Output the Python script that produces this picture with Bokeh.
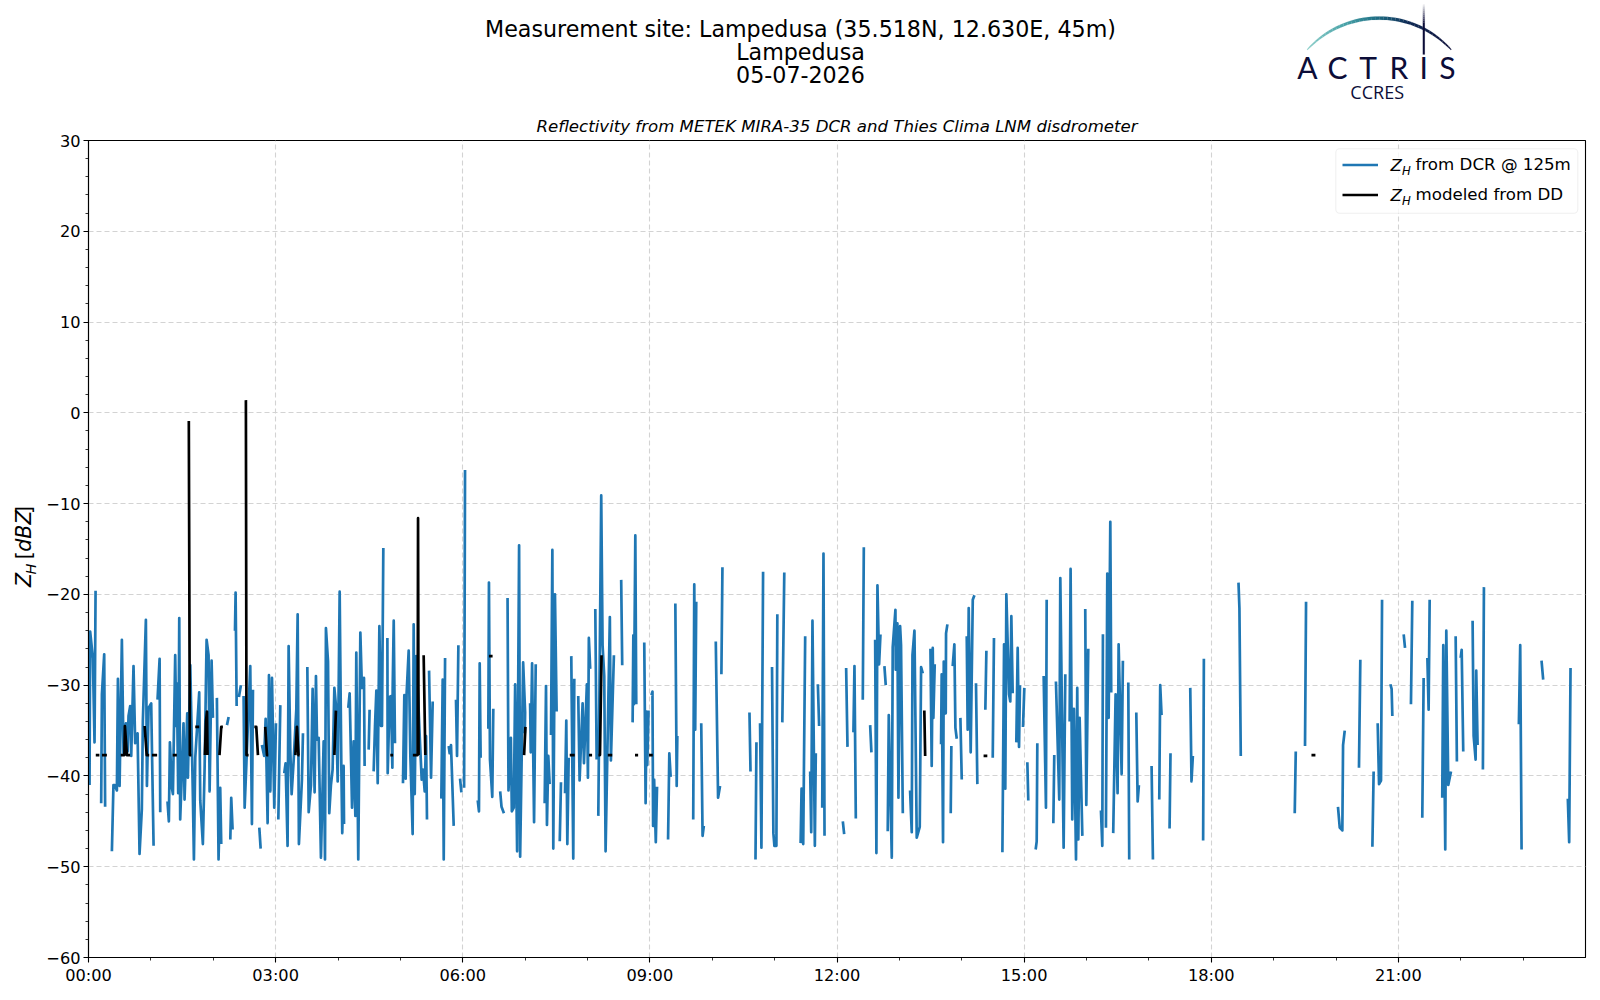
import math
from bokeh.plotting import figure
from bokeh.layouts import column, row
from bokeh.models import (Range1d, FixedTicker, Legend, LegendItem, Label, PolyAnnotation, Title, BoxAnnotation)
from bokeh.embed import file_html
from bokeh.resources import INLINE

# ---------- texts ----------
title_lines = ["Measurement site: Lampedusa (35.518N, 12.630E, 45m)", "Lampedusa", "05-07-2026"]
subtitle = "Reflectivity from METEK MIRA-35 DCR and Thies Clima LNM disdrometer"
x_tick_hours = [0, 3, 6, 9, 12, 15, 18, 21]
x_tick_labels = ["00:00", "03:00", "06:00", "09:00", "12:00", "15:00", "18:00", "21:00"]
y_tick_values = [30, 20, 10, 0, -10, -20, -30, -40, -50, -60]
y_tick_labels = ["30", "20", "10", "0", "\u221210", "\u221220", "\u221230", "\u221240", "\u221250", "\u221260"]

# ---------- DCR reflectivity: (minute of day, dBZ); None marks a data gap ----------
dcr_00_03 = [(1,-41),(1.6,-24.1),(4.2,-27),(5.8,-36.3),(6.8,-19.6),None,
 (12.2,-43),(12.9,-31),(15.1,-26.6),(16,-43.4),None,
 (22.5,-48.3),(24,-41),(25.4,-41),(27.3,-41.6),(28.3,-29.3),(29.9,-41.1),(32.1,-25),(33.7,-37.5),(36,-34.2),(37.6,-37.3),(38.5,-33.4),(40.1,-32.3),(41.1,-37.8),(43.3,-27.9),(44.9,-36.4),(47.2,-35.3),(49.1,-48.6),(51.3,-43.7),(52.3,-33.9),(55.2,-22.8),(56.2,-41.1),(57.8,-32.5),(60.3,-32),(62.6,-47.7),None,
 (66.4,-31.6),(68.4,-27.1),(69,-44),None,
 (76,-42.8),(77.3,-45),(78.3,-36.3),(80.2,-41.3),(81.2,-42),(83.4,-26.7),(84.4,-34.5),(85,-29.8),(86.3,-41.9),(87.3,-22.6),(88.2,-44.8),(89.8,-39.7),(91.4,-34.2),(92.4,-42.6),(95,-33.1),(95.6,-40.2),(97.9,-27.8),(99.5,-36.9),(100.4,-42.2),(101.4,-49.2),(102.7,-38),(106.5,-30.8),(107.5,-42.7),(110,-47.5),(111.7,-39.1),(113.6,-25),(115.5,-26.7),(116.5,-41.7),(118.4,-27.3),(119.7,-33.6),None,
 (123.5,-31.4),(125.1,-49.2),(126.7,-41.3),(127.7,-47.5),None,
 (133.2,-34.4),(134.8,-33.5),None,
 (136.4,-47),(137.3,-42.4),(138.6,-45.9),None,
 (140.9,-24),(141.5,-19.8),(142.5,-32.3),None,
 (144.7,-31.3),(146.6,-30),None,
 (149.2,-31.2),(150.2,-43.5),(155.6,-27.9),(157.2,-45.3),(158.2,-30.5),None,
 (164.3,-45.7),(165.6,-48),None,
 (166.8,-36.6),(169,-37.8),(170.4,-33.7),(172.3,-45.2),(173.6,-28.9),(174.9,-41.7),(176.5,-29.2),(178.7,-43.5),(180.3,-34.2),None]
dcr_03_06 = [(182.6,-44.8),(184.5,-32.2),None,
 (188.3,-39.7),(189.6,-38.6),(191.5,-47.7),(192.5,-25.7),(194.1,-37.1),(195.4,-42),(197.3,-38.4),(199.9,-32.7),(201.2,-22.2),(202.4,-47.5),(205.3,-40.4),(206.3,-35.3),None,
 (210.5,-28),(211.8,-44),(214,-41),(215.6,-30.4),(217.5,-41.8),(218.8,-29),(219.8,-36),(221.4,-35.8),(223.6,-49),(226.2,-36.2),(227.5,-49.2),(228.4,-23.7),(230.4,-27.4),(231.6,-44.1),(233.2,-41),(234.8,-39.3),(236.5,-30.3),(238,-32.2),(239.7,-40.6),(241.6,-19.7),(243.2,-38.9),(244.1,-46.3),(245.4,-38.9),(245.8,-45.3),None,
 (249.9,-32.5),(251.2,-30.9),(253.5,-43.5),(255,-36.2),(256.7,-44.4),(257.6,-26.4),(259.5,-49.2),(261.5,-24.2),(263,-30.3),(265,-29.2),(265.6,-38.9),None,
 (269.5,-37.1),(270.4,-32.7),None,
 (274.3,-39.5),(275.6,-34.5),(276.9,-30.6),(278.2,-40.8),(279.8,-23.5),(281.4,-34.5),(282.3,-34.5),(283.6,-14.9),None,
 (287.5,-24.8),(287.8,-39.7),(289.7,-31.3),(291,-31.2),(292.3,-39.1),(292.6,-30.3),(293.6,-22.9),(294.8,-36.4),None,
 (302.5,-40.8),(303.8,-31.1),(305.1,-40.3),(306,-30.9),(308,-26.2),(309.6,-37.8),(311.8,-46.4),(312.8,-23.3),(313.8,-42),(315.4,-26.8),(318.6,-35.6),(320.5,-40.4),(321.8,-39.3),(323.4,-41.7),(324.7,-35.6),(325.6,-44.8),None,
 (327.6,-28.4),(329.5,-40.2),(331.1,-31.8),None,
 (339.4,-42.5),(340.7,-29.4),(341.7,-49.2),(343,-27),None,
 (346.5,-36.7),(347.4,-37.5),(348.7,-36.6),(351.3,-45.5),None,
 (353.5,-31.6),(354.5,-37.8),(355.8,-25.6),None,
 (357.4,-40.3),(358.7,-41.8),None]
dcr_06_09 = [(361.3,-41.3),(362.2,-6.3),None,
 (374.4,-42.7),(375.6,-43.9),(376.3,-27.6),(377.2,-38),None,
 (384.6,-34.8),(385.2,-18.7),(386.2,-38.2),(388.4,-42.3),(389.4,-32.6),None,
 (396,-41.7),(397.3,-43.4),(399.6,-44.1),None,
 (403.1,-20.4),(404,-41.6),(406.3,-35.8),(407.2,-43.9),(409.1,-43.5),(410.4,-29.9),(412.3,-48.3),(414.2,-14.6),(415.2,-48.9),(418.1,-27.5),(420,-33),(419.7,-35.3),None,
 (424.8,-32),(425.4,-37.4),(426.7,-27.6),(428.6,-45.1),(430.2,-27.7),None,
 (438.8,-43),(440.1,-30.1),(441,-45.4),(442.3,-37.8),(443.6,-40.9),None,
 (444.9,-35.5),(446.2,-15.1),(447.1,-48),(448.7,-20),(450.3,-32.9),None,
 (453.3,-47.2),(454.5,-40.7),None,
 (458.4,-41.9),(459.6,-33.9),(460.6,-47.5),(461.9,-38),None,
 (464.4,-26.8),(466.3,-49.1),(467.3,-29.3),None,
 (471.1,-31.2),(472.4,-40.5),(475.3,-32),(476.6,-38.6),(479.4,-29.9),(480.4,-40.2),(481.3,-24.8),(482.6,-28.2),None,
 (487.5,-21.6),(488.8,-38.2),None,
 (490.4,-44.4),(493.2,-9.1),(494.5,-25.6),(496.1,-29),(497.4,-48.3),(501.5,-22.5),(502.5,-38.3),(505.4,-26.7),None,
 (512.4,-18.4),(513.4,-27.8),None,
 (523.4,-34.1),(524.1,-24.5),(524.7,-32.1),(526,-13.5),(526.9,-32.1),None,
 (534.6,-25.3),(535.9,-43),(536.8,-32.9),(537.5,-38.8),(538.7,-32.8),None]
dcr_09_12 = [(541.5,-31.1),(542.5,-30.7),(543.1,-45.5),(544.1,-40.4),(545.7,-47.3),(546.9,-41.2),None,
 (557.5,-47),(558.7,-37.5),(560,-40.1),None,
 (564.5,-21),(565.8,-41.1),(566.4,-35.6),None,
 (581.7,-44.8),(582.7,-18.9),(583.6,-34.9),(584.6,-20.8),None,
 (589.4,-34.2),(590.7,-46.6),(591.9,-45.5),None,
 (603.4,-25.2),(605.6,-42.4),(607.5,-41.1),None,
 (608.8,-28.8),(609.8,-17),None,
 (635.8,-33),(636.8,-39.5),None,
 (641.6,-49.2),(642.5,-36.3),None,
 (646,-34.2),(647.3,-47.9),(648.9,-17.5),None,
 (657.5,-28),(658.8,-46.3),(659.8,-47.7),(661.7,-47.7),(662.6,-22.2),None,
 (667.4,-34.1),(669.3,-17.6),None,
 (685,-47.4),(685.9,-41.4),(687.5,-47.5),(689.4,-24.6),None,
 (694.2,-39.5),(695.2,-46.2),(696.4,-22.9),(698.7,-47.7),(699.6,-37.5),None,
 (701.6,-29.9),(702.8,-34.5),None,
 (705.8,-43.5),(707,-15.5),(708,-46.6),None,
 (725.6,-45),(726.9,-46.4),None,
 (728.8,-28.1),(730.1,-36.8),None]
dcr_12_15 = [(735.8,-35.2),(736.8,-27.9),(738.1,-44.7),None,
 (744.8,-31.6),(745.8,-14.8),None,
 (751.9,-34.4),(753.1,-37.4),None,
 (756.7,-25),(757.9,-48.5),(758.9,-19),(760.5,-27.7),(761.8,-24.4),None,
 (765.6,-27.9),(766.9,-30),None,
 (768.8,-46.1),(769.8,-33.3),(772.7,-49),(773.6,-25.8),(776.2,-21.7),(776.5,-28.3),(778.1,-23.2),(779.1,-42.4),(780.7,-23.5),(781.6,-25.6),(783.3,-44.1),None,
 (790.3,-41.6),(791.9,-46.2),(792.6,-26.7),(794.5,-24),(796.7,-46.8),(799.6,-45.6),(800.9,-28),(802.5,-28.7),None,
 (809.9,-26),(811.1,-38.9),(812.1,-25.9),(812.7,-33.6),(814,-27.7),None,
 (820.1,-36.5),(820.7,-28.8),(822,-47.3),(822.7,-27.4),(824.6,-33.1),(824.9,-24.3),(826.2,-23.3),None,
 (829.4,-44.1),(830,-36.7),None,
 (831.3,-27.9),(832.9,-25.5),(833.9,-34.7),(835.2,-35.9),None,
 (838.7,-33.6),(840,-40.4),None,
 (844.8,-24.6),(845.7,-34.9),(846.7,-21.5),(848.6,-37.4),(850.6,-20.6),(852.2,-20.1),None,
 (853.7,-29.8),(855,-40.9),None,
 (862.7,-32.7),(863.7,-26.2),None,
 (869.8,-38),(871,-24.8),None,
 (879.1,-48.4),(880.7,-25.5),(881.9,-41.4),(882.9,-20),(885.5,-31),(886.7,-31.8),(887.7,-22.4),(889,-30.9),None,
 (892.5,-36.3),(893.8,-25.9),(895.1,-36.8),(896,-30),None]
dcr_15_18 = [(898.9,-34.6),(900.2,-30.3),None,
 (903.1,-38.5),(904,-42.7),None,
 (911.1,-48.1),(912.1,-47.2),(912.7,-36.4),None,
 (918.8,-29),(921,-43.5),(921.7,-20.6),None,
 (928.1,-45.2),(929,-37.7),None,
 (930.6,-29.6),(933.8,-42.6),(934.8,-18.2),(938,-47.9),(939.6,-28.8),None,
 (943.8,-34),(944.7,-17.2),(946.3,-44.8),(947.9,-32.6),(949.9,-49.2),(951.1,-30.3),(952.1,-47),(953.4,-33.6),(956,-46.6),None,
 (958.8,-21.6),(959.8,-43.2),(961.7,-26),None,
 (973.9,-43.8),(975.2,-47.7),(975.8,-24.4),None,
 (978.7,-45.7),(980,-17.7),(981.3,-33.6),(982.9,-12),(983.8,-30.8),None,
 (985.7,-46.3),(988,-31),(989.9,-41.9),(990.9,-25.5),(993.8,-39.8),(995,-27.3),None,
 (1000.2,-29.7),(1001.1,-49.2),None,
 (1007.9,-33),(1009.2,-42.8),(1010.4,-41),None,
 (1022.6,-38.9),(1023.9,-49.2),None,
 (1030,-42.6),(1030.9,-30),(1032.2,-33.3),None,
 (1039.9,-45.8),(1040.8,-37.5),None,
 (1059.8,-30.3),(1061,-40.6),(1062.3,-37.8),None,
 (1072.9,-27.1),(1072.2,-47.1),None]
dcr_18_24 = [(1106.2,-18.7),(1107.1,-21.5),(1108.4,-37.8),None,
 (1160.3,-44.1),(1161.3,-37.3),None,
 (1170.2,-36.7),(1171.2,-20.8),None,
 (1201.9,-43.4),(1203.6,-45.7),(1206.1,-46),(1206.8,-36.6),(1208.4,-35),None,
 (1222.1,-39.1),(1223.4,-27.2),None,
 (1235,-47.8),(1236.2,-39.5),None,
 (1240.1,-34.2),(1241.4,-40.9),(1243.3,-40.5),(1244.3,-20.6),None,
 (1252.3,-29.9),(1253.5,-30.4),(1254.2,-33.4),None,
 (1265.1,-24.4),(1266.4,-25.9),None,
 (1272.1,-32.1),(1273.4,-20.7),None,
 (1283,-44.6),(1284.3,-29.2),None,
 (1287.9,-27),(1289.1,-32.7),(1290.1,-20.6),None,
 (1302.2,-42.4),(1303.2,-25.6),(1305.1,-48.1),(1306.1,-24),(1308,-41),(1310.6,-39.5),None,
 (1315.1,-24.6),(1316.3,-38.4),None,
 (1319.9,-27),(1320.9,-26.1),(1322.4,-37.3),None,
 (1331.4,-22.9),(1332.4,-35.6),(1334.3,-38.2),(1334.9,-28.4),(1336.2,-36.6),None,
 (1341.3,-39.3),(1342.3,-19.2),None,
 (1375.9,-34.3),(1377.2,-25.6),(1378.5,-48.1),None,
 (1397.7,-27.3),(1399.3,-29.4),None,
 (1423,-42.5),(1424.3,-47.3),(1425.6,-28.1)]

# ---------- reflectivity modeled from disdrometer data ----------
dd_00_03 = [(7,-37.7),(10.5,-37.7),None,(13,-37.7),(17.7,-37.7),None,
 (31,-37.7),(34.5,-37.7),(35,-34.5),(37,-37.7),(40,-37.7),None,
 (54,-34.5),(56,-37.7),(58.4,-37.7),None,(61,-37.7),(66,-37.7),None,
 (81,-37.7),(85,-37.7),None,
 (96.5,-0.9),(97.5,-37.7),(99,-37.7),None,
 (102.7,-34.6),(106.5,-34.6),None,
 (112,-37.7),(113,-34),(114,-32.9),(114.5,-37.7),None,
 (126,-37.7),(127.7,-34.6),(129.3,-34.6),None,
 (151.4,1.4),(152,-37.7),(154,-37.7),None,
 (159.5,-34.6),(161.4,-34.6),(163,-37.7),None,
 (170,-34.6),(171.7,-37.7),(173,-37.7),None]
dd_03_06 = [(199,-37.7),(200.5,-34.6),(202,-37.7),(203,-37.7),None,
 (236.5,-37.7),(238,-32.8),None,
 (290.3,-37.7),(293,-37.7),None,
 (312,-37.7),(316.6,-37.7),(317,-11.6),(317.5,-37.7),None,
 (322.4,-26.7),(324,-37.7),None]
dd_06_24 = [(385.2,-26.8),(388.7,-26.8),None,
 (419,-37.7),(420.3,-34.6),None,
 (462.9,-37.7),(467.7,-37.7),None,
 (481.4,-37.7),(484.4,-37.7),None,
 (490.5,-37.7),(492,-37.7),(493.5,-26.7),None,
 (499.5,-37.7),(503.8,-37.7),None,
 (525.7,-37.7),(528.7,-37.7),None,
 (539.2,-37.7),(542.8,-37.7),None,
 (804,-32.8),(804.8,-37.8),None,
 (861,-37.8),(864.6,-37.8),None,
 (1176.4,-37.7),(1180.2,-37.7)]

DCR_COLOR = "#1f77b4"
LOGO_NAVY = "#0c0d38"
FONT = "DejaVu Sans"
W, H = 1592, 992     # whole page block
HEAD = 108           # height of the strip with the titles and the logo
SIDE = 40            # width of the strip with the y axis title


def split(blocks):
    hours, values = [], []
    for block in blocks:
        for pt in block:
            hours.append(float("nan") if pt is None else pt[0] / 60.0)
            values.append(float("nan") if pt is None else pt[1])
    return hours, values


def blank(width, height, x0, x1, y0, y1):
    """An axis-less figure whose data coordinates are page pixels."""
    f = figure(width=width, height=height, output_backend="svg", toolbar_location=None,
               x_range=Range1d(x0, x1), y_range=Range1d(y1, y0),
               x_axis_type=None, y_axis_type=None,
               min_border=0, min_border_left=0, min_border_right=0, min_border_top=0, min_border_bottom=0,
               background_fill_color="white", border_fill_color="white")
    f.outline_line_color = None
    f.grid.visible = False
    return f


def text(f, s, px, py, size, font=FONT, style="normal", align="center", color="black", angle=0,
         units="data"):
    f.add_layout(Label(x=px, y=py, x_units=units, y_units=units, text=s, level="overlay",
                       text_font=font, text_font_size=f"{size}px", text_font_style=style,
                       text_align=align, text_baseline="alphabetic", text_color=color,
                       angle=angle, background_fill_alpha=0, border_line_alpha=0))


# ---------- main chart ----------
p = figure(width=W - SIDE, height=H - HEAD, output_backend="svg", toolbar_location=None,
           x_range=Range1d(0, 24), y_range=Range1d(-60, 30),
           min_border_left=88 - SIDE, min_border_right=7, min_border_top=140 - HEAD, min_border_bottom=35,
           background_fill_color="white", border_fill_color="white")
p.outline_line_color = "black"
p.outline_line_width = 1.1
p.title = Title(text=subtitle, align="center", text_font=FONT, text_font_size="16.6px",
                text_font_style="italic", text_color="black", standoff=9)

for ax in (p.xaxis[0], p.yaxis[0]):
    ax.axis_line_color = "black"
    ax.axis_line_width = 1.1
    ax.major_tick_line_color = "black"
    ax.major_tick_line_width = 1.1
    ax.minor_tick_line_color = "black"
    ax.minor_tick_line_width = 0.8
    ax.major_tick_out = 5
    ax.major_tick_in = 0
    ax.minor_tick_out = 3
    ax.minor_tick_in = 0
    ax.major_label_text_font = FONT
    ax.major_label_text_font_size = "16.2px"
    ax.major_label_text_color = "black"
    ax.major_label_standoff = 3

p.xaxis[0].ticker = FixedTicker(ticks=x_tick_hours, minor_ticks=list(range(0, 24)))
p.xaxis[0].major_label_overrides = dict(zip(x_tick_hours, x_tick_labels))
p.yaxis[0].ticker = FixedTicker(ticks=y_tick_values, minor_ticks=list(range(-60, 31, 2)))
p.yaxis[0].major_label_overrides = dict(zip(y_tick_values, y_tick_labels))

for g in (p.xgrid[0], p.ygrid[0]):
    g.grid_line_color = "#d3d3d3"
    g.grid_line_width = 1.1
    g.grid_line_dash = "5 3"

tx, ty = split([dcr_00_03, dcr_03_06, dcr_06_09, dcr_09_12, dcr_12_15, dcr_15_18, dcr_18_24])
r_dcr = p.line(tx, ty, line_color=DCR_COLOR, line_width=2.7, line_join="round", line_cap="butt")
bx, by = split([dd_00_03, dd_03_06, dd_06_24])
r_dd = p.line(bx, by, line_color="black", line_width=2.7, line_join="round", line_cap="butt")

# legend frame, under the legend entries so that the Z_H symbols stay on top
p.add_layout(BoxAnnotation(left=1335.3 - SIDE, right=1577.3 - SIDE, top=148.3 - HEAD, bottom=212.7 - HEAD,
                           left_units="canvas", right_units="canvas", top_units="canvas", bottom_units="canvas",
                           fill_color="white", fill_alpha=0.8, line_color="#cccccc", line_width=1.1,
                           border_radius=4, editable=False))

legend = Legend(items=[LegendItem(label="from DCR @ 125m", renderers=[r_dcr]),
                       LegendItem(label="modeled from DD", renderers=[r_dd])],
                location=(1253.5, 751), margin=0, padding=5, spacing=7,
                glyph_width=36, glyph_height=23, label_height=23, label_standoff=38,
                label_text_font=FONT, label_text_font_size="16.67px", label_text_color="black",
                border_line_color=None, background_fill_alpha=0)
p.add_layout(legend)

# legend symbol Z_H, in the main figure's canvas coordinates
for mid in (165, 195):
    text(p, "Z", 1390 - SIDE, mid - HEAD, 16.67, style="italic", align="left", units="canvas")
    text(p, "H", 1401.5 - SIDE, mid + 5 - HEAD, 11.7, style="italic", align="left", units="canvas")

# ---------- y axis title strip ----------
side = blank(SIDE, H - HEAD, 0, SIDE, HEAD, H)
text(side, "Z", 23, 591, 20.6, style="italic", align="left", angle=math.pi / 2)
text(side, "H", 30, 577.5, 14.4, style="italic", align="left", angle=math.pi / 2)
text(side, "[", 23, 561, 20.6, align="left", angle=math.pi / 2)
text(side, "dBZ", 23, 553, 20.6, style="italic", align="left", angle=math.pi / 2)
text(side, "]", 23, 512, 20.6, align="left", angle=math.pi / 2)

# ---------- title and logo strip ----------
head = blank(W, HEAD, 0, W, 0, HEAD)
for line, mid in zip(title_lines, [28.3, 51.7, 74]):
    text(head, line, 800, mid, 22.2)


def mix(a, b, f):
    a = [int(a[i:i + 2], 16) for i in (1, 3, 5)]
    b = [int(b[i:i + 2], 16) for i in (1, 3, 5)]
    return "#%02x%02x%02x" % tuple(round(u + (v - u) * f) for u, v in zip(a, b))


def quad(xs, ys, color):
    head.add_layout(PolyAnnotation(xs=list(xs), ys=list(ys), fill_color=color, fill_alpha=1,
                                   line_color=color, line_width=0.3, editable=False))


R, CX, CY = 97.7, 1378.7, 115.3
a0 = math.asin(72 / R)
N = 40
stops = [(0.0, "#8fd0cb"), (0.28, "#4aa3a8"), (0.48, "#1f6f85"), (0.68, "#0f2a55"), (1.0, LOGO_NAVY)]


def stop_color(f):
    for (f0, c0), (f1, c1) in zip(stops, stops[1:]):
        if f <= f1:
            return mix(c0, c1, (f - f0) / (f1 - f0))
    return LOGO_NAVY


for i in range(N):
    f0, f1 = i / N, (i + 1) / N
    t0, t1 = -a0 + 2 * a0 * f0, -a0 + 2 * a0 * f1
    w0 = 0.5 + 1.2 * math.sin(math.pi * f0) ** 0.7
    w1 = 0.5 + 1.2 * math.sin(math.pi * f1) ** 0.7
    xs = [CX + (R + w0) * math.sin(t0), CX + (R + w1) * math.sin(t1),
          CX + (R - w1) * math.sin(t1), CX + (R - w0) * math.sin(t0)]
    ys = [CY - (R + w0) * math.cos(t0), CY - (R + w1) * math.cos(t1),
          CY - (R - w1) * math.cos(t1), CY - (R - w0) * math.cos(t0)]
    quad(xs, ys, stop_color((f0 + f1) / 2))

# vertical stroke of the logo, fading towards the top
for i in range(10):
    f = i / 10
    quad([1422.3, 1424.3, 1424.3, 1422.3], [2 + f * 20, 2 + f * 20, 2 + (f + 0.1) * 20, 2 + (f + 0.1) * 20],
         mix("#ffffff", LOGO_NAVY, f))
quad([1422.3, 1424.3, 1424.3, 1422.3], [22, 22, 54, 54], LOGO_NAVY)

for letter, x in zip("ACTRIS", [1307, 1337, 1367.5, 1398.5, 1423.3, 1447]):
    text(head, letter, x, 66.5, 30, font="Lato", color=LOGO_NAVY)
text(head, "CCRES", 1376.7, 91, 18, font="Open Sans", color=LOGO_NAVY)

page = column(head, row(side, p, spacing=0), spacing=0)
open("out.html", "w").write(file_html(page, INLINE))
